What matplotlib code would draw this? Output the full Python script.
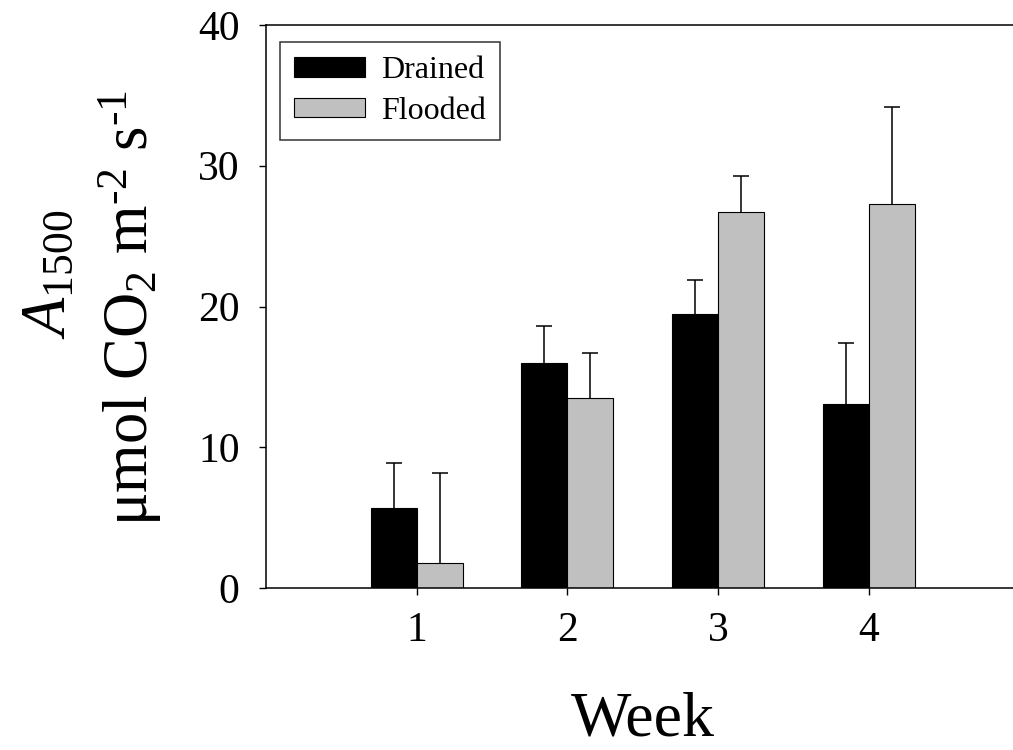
import matplotlib
matplotlib.use("Agg")
import matplotlib.pyplot as plt
import numpy as np

weeks = [1, 2, 3, 4]
drained = [5.7, 16.0, 19.5, 13.1]
drained_err = [3.2, 2.6, 2.35, 4.3]
flooded = [1.8, 13.5, 26.7, 27.3]
flooded_err = [6.4, 3.2, 2.55, 6.9]

plt.rcParams['font.family'] = ['Liberation Serif', 'DejaVu Serif']
plt.rcParams['mathtext.fontset'] = 'custom'
plt.rcParams['mathtext.rm'] = 'Liberation Serif'
plt.rcParams['mathtext.it'] = 'Liberation Serif:italic'

W, H = 1013, 750
fig = plt.figure(figsize=(W / 100, H / 100), dpi=100)
ax = fig.add_axes([266 / W, (H - 588) / H, 5 * 150.7 / W, 563 / H])

x = np.array(weeks)
bw = 0.305
err_kw = dict(ecolor='black', elinewidth=1.1, capsize=6, capthick=1.1)
b1 = ax.bar(x - bw / 2, drained, bw, color='black', edgecolor='black', linewidth=0.8,
            yerr=[np.zeros(4), drained_err], error_kw=err_kw, label='Drained')
b2 = ax.bar(x + bw / 2, flooded, bw, color='#c0c0c0', edgecolor='black', linewidth=0.8,
            yerr=[np.zeros(4), flooded_err], error_kw=err_kw, label='Flooded')
# only the upper error is drawn, so drop the lower caps
for b in (b1, b2):
    caps = b.errorbar.lines[1]
    caps[0].set_visible(False)

ax.set_xlim(0, 5)
ax.set_ylim(0, 40)
ax.set_xticks(weeks)
ax.set_yticks([0, 10, 20, 30, 40])
ax.tick_params(axis='both', direction='out', length=5, width=1, labelsize=30)
ax.tick_params(axis='x', pad=12)
ax.tick_params(axis='y', pad=14)
ax.spines['right'].set_visible(False)
for s in ['left', 'top', 'bottom']:
    ax.spines[s].set_linewidth(1.1)

ax.set_xlabel('Week', fontsize=46)
ax.xaxis.set_label_coords(0.5, -(735 - 588) / 563)
ax.xaxis.label.set_va('baseline')

fig.text(50 / W, 1 - 274 / H, '$A_{1500}$', rotation=90, ha='center', va='center', fontsize=45)
fig.text(130 / W, 1 - 308 / H, r'μmol CO$_2$ m$^{\text{-}2}$ s$^{\text{-}1}$', rotation=90,
         ha='center', va='center', fontsize=45)

leg = ax.legend(loc='upper left', bbox_to_anchor=((280 - 266) / (5 * 150.7), 1 - (42 - 25) / 563),
                fontsize=23, frameon=True, fancybox=False, edgecolor='black',
                handlelength=2.2, handleheight=0.55, borderpad=0.45, labelspacing=0.35,
                handletextpad=0.5, borderaxespad=0)
leg.get_frame().set_linewidth(1.1)

fig.savefig('out.png', dpi=100)
